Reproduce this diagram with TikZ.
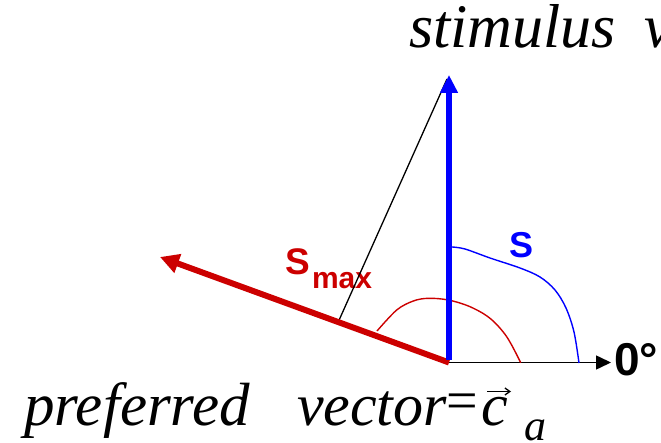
\documentclass[tikz,border=0pt]{standalone}
\usepackage{fontspec}
\setmainfont{Liberation Serif}
\newfontfamily\arialfont{Liberation Sans}
\usetikzlibrary{arrows.meta}
\definecolor{vred}{RGB}{204,0,0}
\definecolor{vblue}{RGB}{0,0,255}
\tikzset{
  lbl/.style={inner sep=0pt, outer sep=0pt, anchor=base west},
  serifbig/.style={lbl, font=\fontsize{60}{70}\selectfont\itshape},
  sanslbl/.style={lbl, font=\arialfont\bfseries},
  thickvec/.style={line width=6pt},
  thinline/.style={line width=1.3pt},
  curve/.style={line width=1.4pt, smooth, tension=0.55}
}
\begin{document}
\begin{tikzpicture}[x=1pt, y=-1pt]
\useasboundingbox (0,0) rectangle (661,443);
\clip (0,0) rectangle (661,443);
% key points
\coordinate (O) at (449,362.5);
\coordinate (B) at (449,75);
\coordinate (R) at (160,257);
\coordinate (X) at (611,362.5);
\coordinate (F) at (338,322.5);
\coordinate (T) at (447,79);
\coordinate (AL) at (487,391.5);
\coordinate (AR) at (511,391.5);
% texts
\node[serifbig, font=\fontsize{62}{70}\selectfont\itshape] (stim) at (409,48) {stimulus\hspace{29pt}vector};
\node[serifbig, font=\fontsize{61}{70}\selectfont\itshape] (pref) at (24,425) {preferred};
\node[serifbig] (vec) at (297,425) {vector};
\node[lbl, font=\fontsize{56}{62}\selectfont] (eq) at (446,419) {=};
\node[serifbig] (c) at (481.5,425) {c};
\node[lbl, font=\fontsize{44}{50}\selectfont\itshape] (a) at (524,440.5) {a};
\draw[line width=1.3pt, -{Straight Barb[length=5pt,width=7pt]}] (AL) -- (AR);
\node[sanslbl, font=\arialfont\bfseries\fontsize{46}{52}\selectfont] (zero) at (614,375.5) {0°};
\node[sanslbl, text=vblue, font=\arialfont\bfseries\fontsize{36}{42}\selectfont] (S) at (509.5,258) {S};
\node[sanslbl, text=vred, font=\arialfont\bfseries\fontsize{37}{42}\selectfont] (Smax) at (285.5,275) {S};
\node[sanslbl, text=vred, font=\arialfont\bfseries\fontsize{30}{36}\selectfont] (max) at (312,288.5) {max};
% black lines
\draw[thinline] (F) -- (T);
\draw[line width=1.5pt, -{Triangle[length=15pt,width=14pt]}] (O) -- (X);
% curves
\draw[curve, vred] plot coordinates {(377,331) (396.7,310) (413.3,301) (428.3,298.3) (448.3,300) (470,306.7) (490,318.3) (506.7,336.7) (520.7,362.7)};
\draw[curve, vblue] plot coordinates {(452,247) (465,249) (490,258) (520,268) (540,277) (555,290) (566,308) (574,332) (579,363)};
% vectors
\draw[thickvec, vred, -{Triangle[length=19pt,width=19pt]}] (O) -- (R);
\draw[thickvec, vblue, -{Triangle[length=18pt,width=17pt]}] ([yshift=2pt]O) -- (B);
\end{tikzpicture}
\end{document}
